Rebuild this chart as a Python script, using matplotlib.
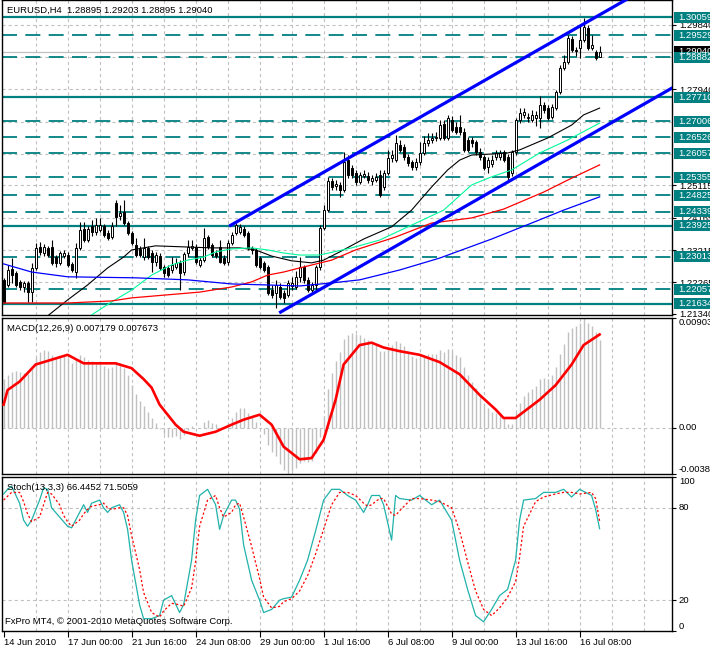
import numpy as np
import matplotlib.pyplot as plt
from matplotlib.patches import Rectangle
from matplotlib.transforms import blended_transform_factory

plt.rcParams['font.family'] = ['Liberation Sans', 'DejaVu Sans']
plt.rcParams['lines.scale_dashes'] = False

# --- EURUSD H4 candles (14 Jun 2010 08:00 .. 16 Jul 2010) ---
opens = [1.2234, 1.2219, 1.2266, 1.2254, 1.2228, 1.2213, 1.2225, 1.2198, 1.2269, 1.2331,
         1.2313, 1.2328, 1.2331, 1.2301, 1.2284, 1.2304, 1.2307, 1.2281, 1.2257, 1.2328,
         1.2384, 1.2351, 1.2393, 1.2375, 1.2381, 1.2393, 1.2372, 1.2360, 1.2460, 1.2422,
         1.2434, 1.2401, 1.2372, 1.2337, 1.2325, 1.2301, 1.2328, 1.2313, 1.2287, 1.2304,
         1.2272, 1.2269, 1.2263, 1.2272, 1.2284, 1.2257, 1.2313, 1.2328, 1.2331, 1.2278,
         1.2292, 1.2360, 1.2337, 1.2313, 1.2331, 1.2298, 1.2287, 1.2343, 1.2372, 1.2375,
         1.2384, 1.2372, 1.2328, 1.2322, 1.2298, 1.2284, 1.2272, 1.2204, 1.2195, 1.2213,
         1.2195, 1.2190, 1.2216, 1.2213, 1.2243, 1.2272, 1.2234, 1.2204, 1.2219, 1.2272,
         1.2387, 1.2439, 1.2525, 1.2510, 1.2513, 1.2498, 1.2586, 1.2563, 1.2548, 1.2522,
         1.2539, 1.2539, 1.2525, 1.2528, 1.2542, 1.2507, 1.2548, 1.2592, 1.2586, 1.2631,
         1.2625, 1.2595, 1.2581, 1.2566, 1.2581, 1.2607, 1.2636, 1.2645, 1.2651, 1.2651,
         1.2692, 1.2651, 1.2704, 1.2683, 1.2683, 1.2669, 1.2645, 1.2645, 1.2639, 1.2610,
         1.2595, 1.2566, 1.2575, 1.2595, 1.2595, 1.2610, 1.2595, 1.2548, 1.2610, 1.2704,
         1.2719, 1.2713, 1.2704, 1.2710, 1.2710, 1.2748, 1.2739, 1.2713, 1.2739, 1.2786,
         1.2857, 1.2874, 1.2942, 1.2910, 1.2916, 1.2939, 1.2974, 1.2916, 1.2904, 1.28895]
highs = [1.2240, 1.2278, 1.2298, 1.2260, 1.2234, 1.2231, 1.2231, 1.2284, 1.2343, 1.2345,
         1.2340, 1.2334, 1.2351, 1.2307, 1.2319, 1.2322, 1.2316, 1.2287, 1.2343, 1.2404,
         1.2404, 1.2393, 1.2410, 1.2416, 1.2416, 1.2399, 1.2381, 1.2404, 1.2469, 1.2454,
         1.2469, 1.2407, 1.2378, 1.2357, 1.2334, 1.2357, 1.2334, 1.2322, 1.2316, 1.2313,
         1.2278, 1.2278, 1.2301, 1.2298, 1.2292, 1.2316, 1.2351, 1.2351, 1.2340, 1.2301,
         1.2387, 1.2366, 1.2343, 1.2322, 1.2351, 1.2307, 1.2351, 1.2375, 1.2401, 1.2398,
         1.2393, 1.2378, 1.2334, 1.2328, 1.2304, 1.2290, 1.2278, 1.2219, 1.2234, 1.2225,
         1.2204, 1.2234, 1.2243, 1.2260, 1.2301, 1.2278, 1.2243, 1.2228, 1.2278, 1.2395,
         1.2454, 1.2536, 1.2533, 1.2528, 1.2522, 1.2610, 1.2601, 1.2572, 1.2557, 1.2551,
         1.2557, 1.2551, 1.2542, 1.2548, 1.2557, 1.2557, 1.2616, 1.2616, 1.2660, 1.2645,
         1.2634, 1.2604, 1.2586, 1.2592, 1.2639, 1.2657, 1.2666, 1.2666, 1.2669, 1.2704,
         1.2704, 1.2719, 1.2716, 1.2698, 1.2719, 1.2681, 1.2654, 1.2654, 1.2645, 1.2622,
         1.2601, 1.2595, 1.2601, 1.2616, 1.2616, 1.2616, 1.2604, 1.2616, 1.2710, 1.2739,
         1.2739, 1.2725, 1.2733, 1.2730, 1.2775, 1.2757, 1.2748, 1.2751, 1.2792, 1.2866,
         1.2895, 1.2954, 1.2951, 1.2919, 1.2983, 1.3004, 1.2983, 1.2954, 1.2910, 1.29203]
lows = [1.2166, 1.2213, 1.2225, 1.2213, 1.2204, 1.2198, 1.2169, 1.2169, 1.2263, 1.2307,
        1.2304, 1.2301, 1.2278, 1.2272, 1.2278, 1.2298, 1.2272, 1.2257, 1.2240, 1.2322,
        1.2345, 1.2345, 1.2363, 1.2366, 1.2375, 1.2360, 1.2351, 1.2354, 1.2393, 1.2410,
        1.2395, 1.2366, 1.2337, 1.2301, 1.2301, 1.2292, 1.2295, 1.2257, 1.2275, 1.2263,
        1.2243, 1.2243, 1.2254, 1.2266, 1.2204, 1.2248, 1.2301, 1.2322, 1.2281, 1.2272,
        1.2287, 1.2325, 1.2301, 1.2298, 1.2284, 1.2278, 1.2278, 1.2337, 1.2366, 1.2369,
        1.2360, 1.2322, 1.2310, 1.2272, 1.2266, 1.2257, 1.2190, 1.2181, 1.2151, 1.2178,
        1.2166, 1.2184, 1.2204, 1.2207, 1.2228, 1.2225, 1.2198, 1.2195, 1.2204, 1.2263,
        1.2381, 1.2433, 1.2498, 1.2498, 1.2478, 1.2492, 1.2533, 1.2533, 1.2513, 1.2516,
        1.2533, 1.2519, 1.2513, 1.2522, 1.2478, 1.2498, 1.2542, 1.2581, 1.2581, 1.2610,
        1.2586, 1.2569, 1.2557, 1.2557, 1.2572, 1.2601, 1.2628, 1.2636, 1.2642, 1.2645,
        1.2645, 1.2645, 1.2669, 1.2663, 1.2660, 1.2610, 1.2610, 1.2625, 1.2601, 1.2586,
        1.2557, 1.2548, 1.2566, 1.2586, 1.2586, 1.2581, 1.2522, 1.2539, 1.2601, 1.2695,
        1.2710, 1.2698, 1.2698, 1.2686, 1.2681, 1.2725, 1.2704, 1.2707, 1.2733, 1.2780,
        1.2851, 1.2869, 1.2904, 1.2892, 1.2886, 1.2933, 1.2910, 1.2910, 1.2880, 1.28895]
closes = [1.2169, 1.2263, 1.2248, 1.2219, 1.2213, 1.2225, 1.2198, 1.2269, 1.2328, 1.2316,
          1.2331, 1.2307, 1.2284, 1.2284, 1.2313, 1.2313, 1.2278, 1.2263, 1.2328, 1.2381,
          1.2351, 1.2384, 1.2375, 1.2395, 1.2395, 1.2366, 1.2357, 1.2393, 1.2419, 1.2431,
          1.2401, 1.2372, 1.2343, 1.2307, 1.2307, 1.2328, 1.2301, 1.2287, 1.2307, 1.2269,
          1.2254, 1.2248, 1.2278, 1.2284, 1.2254, 1.2310, 1.2331, 1.2334, 1.2287, 1.2292,
          1.2357, 1.2331, 1.2307, 1.2304, 1.2287, 1.2284, 1.2343, 1.2366, 1.2395, 1.2389,
          1.2366, 1.2328, 1.2322, 1.2278, 1.2272, 1.2263, 1.2195, 1.2190, 1.2219, 1.2184,
          1.2181, 1.2225, 1.2225, 1.2243, 1.2272, 1.2234, 1.2204, 1.2219, 1.2272, 1.2387,
          1.2439, 1.2525, 1.2507, 1.2516, 1.2498, 1.2581, 1.2542, 1.2542, 1.2522, 1.2542,
          1.2545, 1.2528, 1.2534, 1.2536, 1.2484, 1.2548, 1.2592, 1.2601, 1.2636, 1.2616,
          1.2595, 1.2578, 1.2566, 1.2581, 1.2607, 1.2636, 1.2645, 1.2651, 1.2654, 1.2689,
          1.2651, 1.2710, 1.2675, 1.2669, 1.2669, 1.2616, 1.2616, 1.2636, 1.2610, 1.2595,
          1.2563, 1.2586, 1.2586, 1.2607, 1.2607, 1.2586, 1.2536, 1.2610, 1.2704, 1.2725,
          1.2728, 1.2710, 1.2719, 1.2719, 1.2748, 1.2733, 1.2710, 1.2742, 1.2786, 1.2857,
          1.2874, 1.2945, 1.2910, 1.2907, 1.2939, 1.2977, 1.2916, 1.2925, 1.2886, 1.29040]

# moving averages (bar index, price)
black_bars = [11, 16, 21, 26, 30, 32, 38, 45, 52, 59, 63, 67, 72, 77, 80, 84, 90, 97, 102, 107,
              111, 114, 117, 122, 126, 129, 136, 142, 145, 149]
black_vals = [1.2128, 1.2175, 1.2219, 1.2269, 1.2301, 1.2322, 1.2334, 1.2331, 1.2328, 1.2328,
              1.2322, 1.2304, 1.2290, 1.2284, 1.2292, 1.2316, 1.2354, 1.2390, 1.2439, 1.2507,
              1.2557, 1.2586, 1.2601, 1.2604, 1.2607, 1.2616, 1.2651, 1.2689, 1.2719, 1.2739]
green_bars = [22, 27, 32, 37, 42, 46, 50, 53, 57, 62, 66, 70, 74, 79, 87, 94, 102, 110, 117, 122,
              127, 134, 141, 149]
green_vals = [1.2131, 1.2169, 1.2204, 1.2248, 1.2278, 1.2292, 1.2301, 1.2316, 1.2325, 1.2328,
              1.2322, 1.2313, 1.2307, 1.2307, 1.2328, 1.2351, 1.2395, 1.2439, 1.2513, 1.2537,
              1.2557, 1.2607, 1.2645, 1.2695]
red_bars = [0, 16, 27, 32, 41, 49, 57, 62, 66, 70, 74, 82, 88, 98, 107, 117, 125, 135, 142, 149]
red_vals = [1.2166, 1.2166, 1.2172, 1.2181, 1.2190, 1.2198, 1.2213, 1.2228, 1.2248, 1.2257,
            1.2269, 1.2292, 1.2322, 1.2360, 1.2401, 1.2416, 1.2442, 1.2492, 1.2533, 1.2572]
blue_bars = [0, 7, 16, 33, 46, 57, 66, 74, 82, 89, 99, 109, 122, 132, 140, 149]
blue_vals = [1.2281, 1.2257, 1.2243, 1.2240, 1.2234, 1.2222, 1.2219, 1.2216, 1.2225, 1.2234,
             1.2263, 1.2298, 1.2354, 1.2401, 1.2439, 1.2478]

# trend channel anchors (bar, price)
upper_x, upper_y = [56.4, 160.0], [1.2392, 1.3087]
lower_x, lower_y = [68.9, 168.0], [1.2137, 1.2804]

solid_levels = [1.30059, 1.27710, 1.23925, 1.21634]
dashed_levels = [1.29529, 1.28882, 1.27006, 1.26526, 1.26057, 1.25355, 1.24825, 1.24339,
                 1.23013, 1.22057]
grid_prices = [1.29840, 1.28890, 1.27940, 1.26990, 1.26040, 1.25115, 1.24165, 1.23215, 1.22265]
scale_prices = [1.29840, 1.27940, 1.25115, 1.24165, 1.23215, 1.22265, 1.21340]
bid = 1.29040

# MACD(12,26,9): histogram per bar and signal line samples (x 0.001)
macd_main = [4.0, 4.3, 4.6, 4.7, 4.6, 4.5, 4.4, 5.0, 5.8, 6.2,
             6.4, 6.3, 6.0, 5.7, 5.8, 5.9, 5.7, 5.3, 5.6, 6.0,
             5.8, 5.6, 5.5, 5.4, 5.3, 5.1, 4.9, 5.0, 5.4, 5.3,
             4.9, 4.3, 3.5, 2.8, 2.2, 1.8, 1.3, 0.8, 0.4, -0.1,
             -0.5, -0.8, -0.8, -0.7, -0.9, -0.6, -0.2, 0.1, 0.0, 0.0,
             0.5, 0.6, 0.4, 0.3, 0.0, 0.0, 0.4, 0.8, 1.3, 1.6,
             1.6, 1.2, 1.0, 0.5, 0.0, -0.5, -1.4, -2.0, -2.3, -3.0,
             -3.5, -3.8, -3.6, -3.3, -2.9, -2.7, -2.8, -2.7, -2.1, -0.8,
             1.0, 3.2, 4.5, 5.5, 6.2, 7.3, 7.6, 7.8, 7.7, 7.6,
             7.4, 7.2, 7.0, 6.8, 6.3, 6.3, 6.6, 6.8, 7.1, 7.0,
             6.7, 6.3, 5.9, 5.7, 5.8, 6.0, 6.1, 6.1, 6.1, 6.4,
             6.2, 6.5, 6.3, 6.0, 5.8, 5.0, 4.3, 3.8, 3.3, 2.7,
             2.0, 1.6, 1.3, 1.2, 1.1, 0.9, 0.3, 0.3, 1.3, 2.0,
             2.6, 2.9, 3.2, 3.4, 4.0, 4.1, 4.0, 4.3, 5.0, 6.1,
             6.9, 7.9, 8.2, 8.4, 8.6, 9.03, 8.6, 8.4, 7.9, 7.179]
macd_sig_bars = [0, 1, 4, 8, 12, 16, 20, 24, 28, 32, 35, 37, 39, 43, 45, 49, 53, 57, 60, 64,
                 67, 70, 74, 77, 80, 83, 85, 89, 92, 95, 99, 104, 109, 114, 119, 123, 125, 128,
                 130, 134, 138, 142, 145, 149]
macd_sig_vals = [1.9, 3.1, 3.8, 5.2, 5.6, 6.0, 5.3, 5.3, 5.3, 4.9, 4.0, 3.3, 1.9, 0.25, -0.33,
                 -0.66, -0.33, 0.25, 0.66, 1.07, 0.25, -1.56, -2.6, -2.5, -1.0, 2.3, 5.2, 6.8,
                 7.0, 6.6, 6.3, 6.0, 5.4, 4.4, 2.7, 1.5, 0.8, 0.8, 1.3, 2.3, 3.5, 5.2, 6.8, 7.673]

# Stochastic(13,3,3)
stoch_bars = [0, 1, 2, 4, 5, 6, 7, 9, 10, 11, 12, 14, 15, 16, 17, 19, 20, 21, 22, 24,
              25, 26, 27, 29, 30, 31, 32, 34, 35, 37, 39, 40, 42, 44, 45, 47, 48, 49, 51, 53,
              54, 55, 57, 58, 59, 60, 62, 64, 65, 67, 69, 70, 72, 74, 76, 78, 80, 82, 84, 86,
              88, 90, 91, 92, 94, 95, 97, 98, 99, 102, 104, 107, 109, 112, 114, 116, 118, 120,
              122, 124, 126, 128, 129, 130, 133, 135, 138, 140, 142, 144, 147, 148, 149]
stoch_main = [89, 92, 94, 83, 72, 68, 72, 85, 93, 92, 80, 74, 71, 68, 67, 77, 82, 77, 83, 85,
              80, 77, 80, 82, 77, 66, 46, 17, 8, 8, 10, 20, 23, 12, 17, 46, 72, 88, 92, 82,
              66, 75, 85, 85, 79, 56, 33, 20, 12, 14, 20, 21, 22, 33, 46, 65, 85, 92, 92, 88,
              85, 77, 82, 88, 88, 82, 59, 88, 86, 85, 88, 82, 85, 72, 46, 27, 10, 6,
              14, 23, 27, 46, 72, 85, 86, 90, 90, 92, 87, 92, 88, 79, 66.45]
sig_bars = [0, 2, 4, 5, 6, 7, 9, 10, 11, 12, 14, 15, 16, 17, 19, 20, 21, 22, 24, 25,
            26, 27, 29, 30, 31, 32, 34, 35, 37, 39, 40, 42, 44, 45, 47, 48, 49, 51, 53, 54,
            55, 57, 58, 59, 60, 62, 64, 65, 67, 69, 70, 72, 74, 76, 78, 80, 82, 84, 86, 88,
            90, 91, 92, 94, 95, 97, 98, 99, 102, 104, 107, 109, 112, 114, 116, 118, 120, 122,
            124, 126, 128, 129, 130, 133, 135, 138, 140, 142, 144, 147, 148, 149]
sig_vals = [85, 90, 90, 84, 76, 71, 74, 82, 90, 89, 82, 75, 71, 68, 72, 76, 79, 81, 82, 83,
            80, 79, 80, 80, 75, 62, 40, 25, 12, 9, 13, 18, 17, 16, 28, 45, 68, 85, 88, 80,
            74, 77, 82, 83, 74, 55, 34, 22, 15, 16, 19, 21, 26, 36, 50, 66, 82, 90, 90, 88,
            83, 81, 82, 86, 86, 76, 75, 78, 86, 86, 85, 84, 80, 65, 45, 26, 14, 10,
            15, 22, 32, 48, 68, 84, 87, 89, 90, 90, 89, 90, 86, 71.51]

tick_bars = [0, 16, 32, 48, 64, 80, 96, 112, 128, 144]
tick_labels = ['14 Jun 2010', '17 Jun 00:00', '21 Jun 16:00', '24 Jun 08:00', '29 Jun 00:00',
               '1 Jul 16:00', '6 Jul 08:00', '9 Jul 00:00', '13 Jul 16:00', '16 Jul 08:00']

TEAL = '#008080'
GRID = '#c0c0c0'
FS = 6.8
W, H = 710, 648
fig = plt.figure(figsize=(W / 100, H / 100), dpi=100)


def panel(left, top, right, bottom):
    a = fig.add_axes([left / W, 1 - bottom / H, (right - left) / W, (bottom - top) / H])
    a.set_xlim(-0.4, 167.1)
    a.yaxis.tick_right()
    a.tick_params(axis='y', length=3, width=0.8, labelsize=FS, pad=2, colors='black')
    a.tick_params(axis='x', length=0)
    a.set_xticks([])
    for s in a.spines.values():
        s.set_linewidth(1.0)
    for b in range(8, 168, 8):
        a.axvline(b, color=GRID, lw=0.8, dashes=(2.2, 2.2), zorder=1)
    return a


ax = panel(2, 0, 672, 315)
ax_m = panel(2, 318, 672, 474)
ax_s = panel(2, 477, 672, 631)

# ---------- price panel ----------
ax.set_ylim(1.21307, 1.30568)
for p in grid_prices:
    ax.axhline(p, color=GRID, lw=0.8, dashes=(2.2, 2.2), zorder=1)
ax.axhline(bid, color=GRID, lw=0.9, zorder=1)
for p in solid_levels:
    ax.axhline(p, color=TEAL, lw=1.6, zorder=2)
for p in dashed_levels:
    ax.axhline(p, color=TEAL, lw=1.3, dashes=(10.8, 6.0), zorder=2)

x = np.arange(len(closes))
o, h, l, c = (np.array(v) for v in (opens, highs, lows, closes))
ax.vlines(x, l, h, color='black', lw=0.8, zorder=3)
ax.bar(x, np.abs(c - o), bottom=np.minimum(o, c), width=0.55,
       color=np.where(c >= o, 'white', 'black'), edgecolor='black', linewidth=0.7, zorder=4)

ax.plot(black_bars, black_vals, color='black', lw=0.8, zorder=5)
ax.plot(green_bars, green_vals, color='#00FA9A', lw=0.8, zorder=5)
ax.plot(red_bars, red_vals, color='red', lw=0.9, zorder=5)
ax.plot(blue_bars, blue_vals, color='blue', lw=0.9, zorder=5)
ax.plot(upper_x, upper_y, color='blue', lw=2.3, zorder=6, solid_capstyle='butt')
ax.plot(lower_x, lower_y, color='blue', lw=2.3, zorder=6, solid_capstyle='butt')

ax.set_yticks(scale_prices)
ax.set_yticklabels(['%.5f' % p for p in scale_prices])

ppx = (1.30568 - 1.21307) / 315.0
tr = blended_transform_factory(ax.transAxes, ax.transData)
box_x0 = 1 + 2 / 670


def price_box(p, fc):
    ax.add_patch(Rectangle((box_x0, p - 5.5 * ppx), 0.06, 11 * ppx, transform=tr,
                           fc=fc, ec='none', clip_on=False, zorder=10))
    ax.text(box_x0 + 4 / 670, p, '%.5f' % p, transform=tr, color='white', fontsize=FS,
            ha='left', va='center', clip_on=False, zorder=11)


price_box(bid, 'black')
for p in solid_levels + dashed_levels:
    price_box(p, TEAL)

ax.text(5 / 670, 1 - 10 / 315, 'EURUSD,H4  1.28895 1.29203 1.28895 1.29040',
        transform=ax.transAxes, fontsize=FS, va='center', ha='left', zorder=12)

# ---------- MACD panel ----------
ax_m.set_ylim(-0.00381, 0.00903)
ax_m.axhline(0, color=GRID, lw=0.8, dashes=(2.2, 2.2), zorder=1)
ax_m.vlines(x, 0, np.array(macd_main) / 1000, color=GRID, lw=1.0, zorder=2)
ax_m.plot(macd_sig_bars, np.array(macd_sig_vals) / 1000, color='red', lw=1.9, zorder=3)
ax_m.set_yticks([0.00903, 0.0, -0.00381])
ax_m.set_yticklabels(['0.00903', '0.00', '-0.00381'])
for lbl, va in zip(ax_m.get_yticklabels(), ['top', 'center', 'bottom']):
    lbl.set_va(va)
ax_m.text(5 / 670, 1 - 10 / 156, 'MACD(12,26,9) 0.007179 0.007673',
          transform=ax_m.transAxes, fontsize=FS, va='center', ha='left')

# ---------- Stochastic panel ----------
ax_s.set_ylim(0, 100)
for lv in (80, 20):
    ax_s.axhline(lv, color=GRID, lw=0.8, dashes=(2.2, 2.2), zorder=1)
ax_s.plot(stoch_bars, stoch_main, color='#20B2AA', lw=0.9, zorder=3)
ax_s.plot(sig_bars, sig_vals, color='red', lw=0.9, dashes=(1.6, 1.6), zorder=3)
ax_s.set_yticks([100, 80, 20, 0])
ax_s.set_yticklabels(['100', '80', '20', '0'])
for lbl, va in zip(ax_s.get_yticklabels(), ['top', 'center', 'center', 'bottom']):
    lbl.set_va(va)
ax_s.text(5 / 670, 1 - 10 / 154, 'Stoch(13,3,3) 66.4452 71.5059',
          transform=ax_s.transAxes, fontsize=FS, va='center', ha='left')
ax_s.text(3 / 670, 9 / 154, 'FxPro MT4, \u00a9 2001-2010 MetaQuotes Software Corp.',
          transform=ax_s.transAxes, fontsize=FS, va='center', ha='left')

ax_s.set_xticks(tick_bars)
ax_s.set_xticklabels(tick_labels)
ax_s.tick_params(axis='x', length=4, width=0.8, labelsize=FS, pad=1, direction='out')
for lbl in ax_s.get_xticklabels():
    lbl.set_ha('left')

fig.savefig('out.png', dpi=100, facecolor='white')
